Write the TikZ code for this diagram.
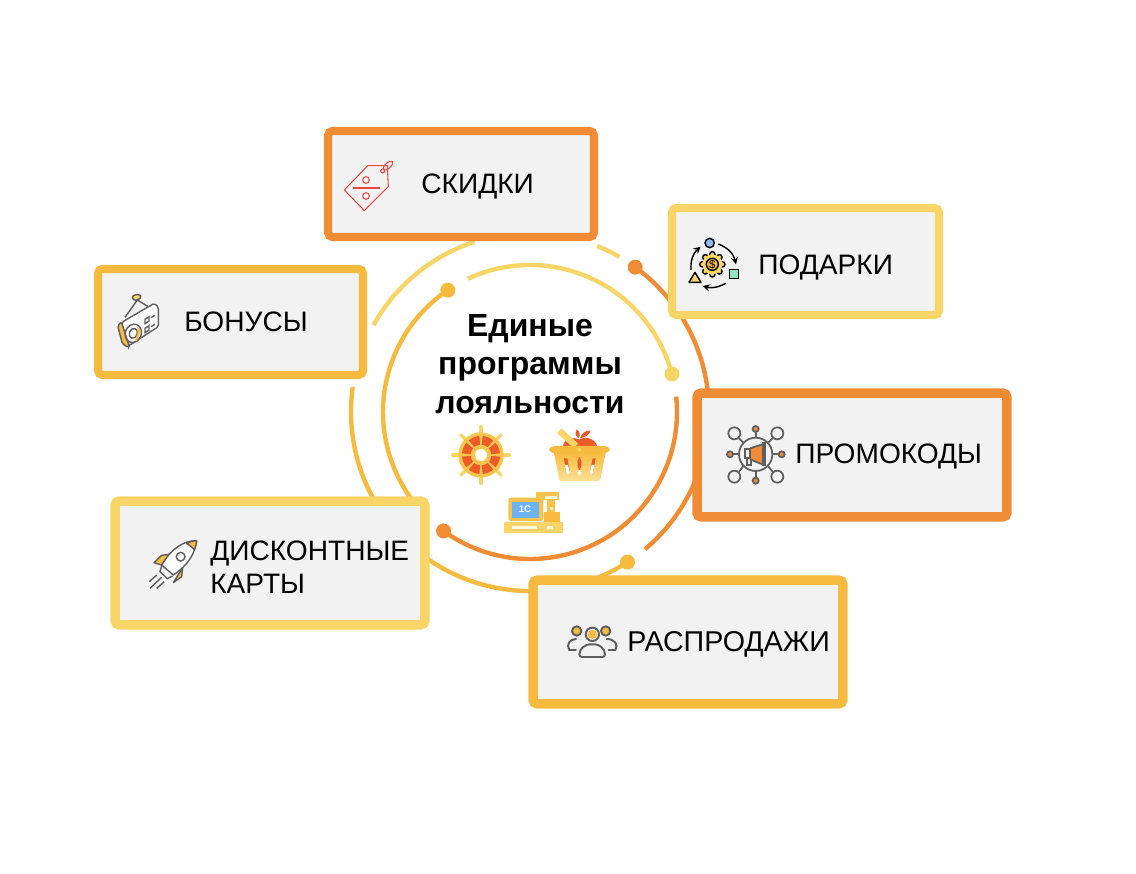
\documentclass[tikz,border=0pt]{standalone}
\usepackage{fontspec}
\setmainfont{Liberation Sans}
\usepackage{xcolor}
\definecolor{ringorange}{HTML}{F08C33}
\definecolor{ringmid}{HTML}{F6BB3E}
\definecolor{ringpale}{HTML}{F8D566}
\definecolor{boxgray}{HTML}{F2F2F2}
\definecolor{icongray}{HTML}{5E5E5E}
\definecolor{iconred}{HTML}{EC5A28}
\definecolor{tagred}{HTML}{E8483F}
\definecolor{iconblue}{HTML}{8FBCEB}
\definecolor{iconmint}{HTML}{93E6C4}
\definecolor{screenblue}{HTML}{6DB3F2}

\begin{document}
\begin{tikzpicture}[x=0.02cm, y=0.02cm,
    ringline/.style={line width=2.5pt},
    ringdot/.style={circle, inner sep=0pt, minimum size=0.3cm},
    offerbox/.style={draw, fill=boxgray, rounded corners=2.5pt, inner sep=0pt, line width=4.6pt},
    bigbox/.style={offerbox, line width=5.4pt},
    offerlabel/.style={anchor=west, inner sep=0pt, align=left, font=\fontsize{16}{18.8}\selectfont},
    zoomicon/.style={x=0.00667cm, y=-0.00667cm},
    thinicon/.style={line width=0.8pt, draw=icongray}]
    \useasboundingbox (0,-874) rectangle (1136,0);

    % Rings
    \coordinate (hub) at (530,-412);
    \node[ringdot, fill=ringpale] (dotPale) at ([shift={(15:147)}]hub) {};
    \node[ringdot, fill=ringmid] (dotMid) at ([shift={(124:147)}]hub) {};
    \node[ringdot, fill=ringorange] (dotOrange) at ([shift={(234:147)}]hub) {};
    \node[ringdot, fill=ringorange] (dotOuterOrange) at ([shift={(54:179)}]hub) {};
    \node[ringdot, fill=ringmid] (dotOuterMid) at ([shift={(-57:179)}]hub) {};
    \draw[ringline, ringpale] (dotPale.center) arc[start angle=15, end angle=115, radius=147];
    \draw[ringline, ringmid] (dotMid.center) arc[start angle=124, end angle=222, radius=147];
    \draw[ringline, ringorange] (dotOrange.center) arc[start angle=234, end angle=366, radius=147];
    \draw[ringline, ringorange] (dotOuterOrange.center) arc[start angle=54, end angle=-50, radius=179];
    \draw[ringline, ringmid] (dotOuterMid.center) arc[start angle=-57, end angle=-188, radius=179];
    \draw[ringline, ringpale] ([shift={(60:179)}]hub) arc[start angle=60, end angle=68, radius=179];
    \draw[ringline, ringpale] ([shift={(108:179)}]hub) arc[start angle=108, end angle=151, radius=179];

    % Boxes
    \node[offerbox, draw=ringorange, minimum width=5.32cm, minimum height=2.12cm] (boxSkidki) at (461,-184) {};
    \node[offerbox, draw=ringpale, minimum width=5.34cm, minimum height=2.14cm] (boxPodarki) at (805.5,-261.5) {};
    \node[offerbox, draw=ringmid, minimum width=5.30cm, minimum height=2.12cm] (boxBonusy) at (230.5,-322) {};
    \node[bigbox, draw=ringorange, minimum width=6.20cm, minimum height=2.48cm] (boxPromo) at (852,-455) {};
    \node[bigbox, draw=ringpale, minimum width=6.20cm, minimum height=2.48cm] (boxKarty) at (270,-563) {};
    \node[bigbox, draw=ringmid, minimum width=6.20cm, minimum height=2.48cm] (boxSale) at (688,-642) {};

    % Labels
    \node[offerlabel] (textSkidki) at (421,-186) {СКИДКИ};
    \node[offerlabel] (textPodarki) at (758,-267) {ПОДАРКИ};
    \node[offerlabel] (textBonusy) at (184,-322) {БОНУСЫ};
    \node[offerlabel] (textPromo) at (795,-456) {ПРОМОКОДЫ};
    \node[offerlabel] (textKarty) at (210,-567.5) {ДИСКОНТНЫЕ\\КАРТЫ};
    \node[offerlabel, font=\fontsize{16.3}{19}\selectfont] (textSale) at (627,-644) {РАСПРОДАЖИ};
    \node[inner sep=0pt, align=center, font=\bfseries\fontsize{18.2}{22.1}\selectfont] (title) at (530,-364) {Единые\\программы\\лояльности};

    % Tag icon
    \begin{scope}[shift={(330,-150)}, zoomicon, tagred, line width=0.6pt]
        \draw[line join=round] (113,47) -- (172,47) -- (175,110) -- (103,182) -- (43,120) -- cycle;
        \draw (108,90) circle[radius=10];
        \draw (108,138) circle[radius=10];
        \draw (68,114) -- (150,114);
        \draw (158,63) circle[radius=6];
        \draw[rotate around={42:(174,47)}] (174,47) ellipse[x radius=18, y radius=8];
    \end{scope}

    % Gear icon
    \begin{scope}[shift={(680,-230)}, zoomicon, line width=0.8pt]
        \foreach \a in {0,45,...,315} {
            \fill[ringpale, draw=black] ([shift={(\a:30)}]97,103) circle[radius=8];
        }
        \fill[ringpale] (97,103) circle[radius=30];
        \fill[ringmid, draw=black] (97,103) circle[radius=18];
        \node[inner sep=0pt, font=\fontsize{6.5}{7}\selectfont] (gearSign) at (97,103) {\$};
        \draw[fill=iconblue] (89,39) circle[radius=14];
        \draw[fill=iconmint] (148,118) rectangle (175,146);
        \draw[fill=ringpale, line join=round] (27,157) -- (63,157) -- (45,127) -- cycle;
        \draw[-stealth, line width=0.8pt] (115,42) to[bend left=28] (168,103);
        \draw[-stealth, line width=0.8pt] (137,160) to[bend left=22] (68,168);
        \draw[-stealth, line width=0.8pt] (33,120) to[bend left=26] (62,50);
    \end{scope}

    % Radio icon
    \begin{scope}[shift={(105,-285)}, zoomicon, thinicon]
        \draw (60,97) -- (97,45) -- (130,65);
        \fill[ringpale, draw=icongray, rounded corners=1pt] (80,33) -- (103,27) -- (110,38) -- (88,48) -- cycle;
        \draw[fill=ringmid, rounded corners=1pt] (38,122) -- (50,110) -- (74,180) -- (70,188) -- (52,176) -- cycle;
        \draw[fill=white, rounded corners=1pt] (50,112) -- (148,55) -- (160,66) -- (160,125) -- (72,182) -- cycle;
        \draw[rotate around={-20:(85,145)}] (85,145) ellipse[x radius=24, y radius=28];
        \draw[rotate around={-20:(85,145)}] (85,145) ellipse[x radius=12, y radius=15];
        \fill[ringmid] (98,123) -- (107,138) -- (96,168) -- (90,168) -- (97,145) -- cycle;
        \draw (120,103) -- (132,95) -- (132,108) -- (120,116) -- cycle;
        \draw (120,130) -- (132,122) -- (132,135) -- (120,143) -- cycle;
        \draw (138,98) -- (150,91);
        \draw (138,125) -- (150,118);
    \end{scope}

    % Megaphone icon
    \begin{scope}[shift={(715,-415)}, zoomicon, icongray, line width=1pt]
        \draw (122,118) circle[radius=50];
        \foreach \cx/\cy/\sx/\sy/\ex/\ey in {58/55/72/70/86/84, 187/55/173/70/158/84, 58/185/72/170/86/152, 187/185/173/170/158/152} {
            \draw (\cx,\cy) circle[radius=18];
            \draw (\sx,\sy) -- (\ex,\ey);
        }
        \foreach \cx/\cy in {122/42, 45/118, 200/118, 122/197} {
            \fill[ringorange, draw=icongray] (\cx,\cy) circle[radius=9];
        }
        \draw (122,52) -- (122,68);
        \draw (122,168) -- (122,187);
        \draw (55,118) -- (72,118);
        \draw (172,118) -- (190,118);
        \fill[ringorange] (105,100) -- (142,88) -- (142,148) -- (105,133) -- cycle;
        \draw (105,100) -- (142,88);
        \draw (105,133) -- (142,148);
        \draw[fill=boxgray] (143,85) rectangle (150,150);
        \draw[fill=boxgray] (90,103) rectangle (105,130);
        \draw (97,130) -- (97,150) -- (107,150) -- (107,135);
    \end{scope}

    % Rocket icon
    \begin{scope}[shift={(140,-530)}, zoomicon, thinicon]
        \draw[fill=ringmid, line join=round] (42,98) -- (65,76) -- (95,72) -- (65,105) -- cycle;
        \draw[fill=ringmid, line join=round] (100,158) -- (128,113) -- (125,140) -- cycle;
        \draw[fill=white, line join=round] (170,32) .. controls (130,32) and (95,55) .. (65,105) -- (100,135) .. controls (145,105) and (165,70) .. (170,32);
        \draw[fill=ringmid, line join=round] (170,32) .. controls (155,33) and (148,36) .. (140,41) .. controls (148,45) and (158,52) .. (163,60) .. controls (167,50) and (169,42) .. (170,32);
        \draw (122,80) circle[radius=13];
        \draw (65,108) -- (60,125) -- (82,146) -- (98,138);
        \draw (30,175) -- (65,142);
        \draw (28,155) -- (50,135);
        \draw (50,175) -- (73,155);
    \end{scope}

    % People icon
    \begin{scope}[shift={(560,-615)}, zoomicon, icongray, line width=1.1pt]
        \draw[fill=ringmid] (50,48) circle[radius=14];
        \draw[fill=ringmid] (137,48) circle[radius=14];
        \draw[fill=boxgray] (97,58) circle[radius=20];
        \fill[ringmid] (97,58) circle[radius=14];
        \draw[rounded corners=1.5pt] (58,126) .. controls (58,98) and (80,88) .. (97,88) .. controls (114,88) and (135,98) .. (135,126) -- cycle;
        \draw[line cap=round] (48,105) -- (28,105) .. controls (18,90) and (28,72) .. (48,72);
        \draw[line cap=round] (146,105) -- (166,105) .. controls (176,90) and (165,72) .. (140,72);
    \end{scope}

    % Helm icon
    \begin{scope}[shift={(440,-420)}, zoomicon]
        \foreach \a in {0,45,...,315} {
            \draw[ringpale, line width=2pt, line cap=round] ([shift={(\a:60)}]123,105) -- ([shift={(\a:85)}]123,105);
        }
        \fill[ringmid!60!ringpale] (123,105) circle[radius=68];
        \foreach \a in {0,45,...,315} {
            \fill[iconred] ([shift={({\a+5}:31)}]123,105) arc[start angle=\a+5, end angle=\a+40, radius=31] -- ([shift={({\a+40}:57)}]123,105) arc[start angle=\a+40, end angle=\a+5, radius=57] -- cycle;
        }
        \fill[ringmid!60!ringpale] (123,105) circle[radius=30];
        \fill[white] (123,105) circle[radius=18];
    \end{scope}

    % Basket icon
    \begin{scope}[shift={(440,-420)}, zoomicon]
        \fill[iconred] (368,80) .. controls (375,50) and (400,52) .. (418,58) .. controls (440,48) and (465,55) .. (472,80) -- cycle;
        \fill[iconred] (415,55) .. controls (405,45) and (405,35) .. (410,28) .. controls (420,35) and (422,45) .. (415,55) -- cycle;
        \fill[iconred] (420,55) .. controls (425,40) and (435,30) .. (452,32) .. controls (448,45) and (435,52) .. (420,55) -- cycle;
        \draw[ringpale, line width=3.6pt] (358,32) -- (408,78);
        \shade[top color=ringmid, bottom color=ringpale!70!white] (342,98) -- (497,98) -- (482,175) .. controls (481,181) and (478,183) .. (472,183) -- (367,183) .. controls (361,183) and (358,181) .. (357,175) -- cycle;
        \fill[ringmid, rounded corners=3pt] (327,78) rectangle (510,100);
        \fill[ringpale] (418,88) circle[radius=6];
        \fill[iconred] (372,115) -- (382,115) -- (390,160) -- (380,165) -- cycle;
        \fill[white] (375,135) -- (384,135) -- (390,160) -- (380,165) -- cycle;
        \fill[iconred, rounded corners=2pt] (413,112) rectangle (424,150);
        \fill[white, rounded corners=2pt] (413,150) rectangle (424,165);
        \fill[iconred] (458,115) -- (467,115) -- (457,165) -- (449,160) -- cycle;
        \fill[white] (455,135) -- (463,135) -- (457,165) -- (449,160) -- cycle;
    \end{scope}

    % Register icon
    \begin{scope}[shift={(440,-420)}, zoomicon]
        \fill[ringmid!70!ringpale, rounded corners=1.5pt] (205,233) rectangle (310,303);
        \fill[screenblue] (215,245) rectangle (297,295);
        \node[inner sep=0pt, text=white, font=\bfseries\fontsize{5.5}{6}\selectfont] (regScreen) at (255,269) {1С};
        \fill[ringmid!70!ringpale] (287,217) rectangle (358,240);
        \fill[white!70!ringpale] (315,228) rectangle (350,236);
        \fill[ringmid!70!ringpale] (322,240) rectangle (345,275);
        \fill[white!60!ringpale] (330,262) rectangle (340,270);
        \fill[ringmid] (312,275) rectangle (360,305);
        \fill[ringpale] (193,305) rectangle (370,338);
        \fill[white!80!ringpale] (215,317) rectangle (290,327);
        \fill[white!80!ringpale] (322,317) rectangle (338,327);
    \end{scope}
\end{tikzpicture}
\end{document}
